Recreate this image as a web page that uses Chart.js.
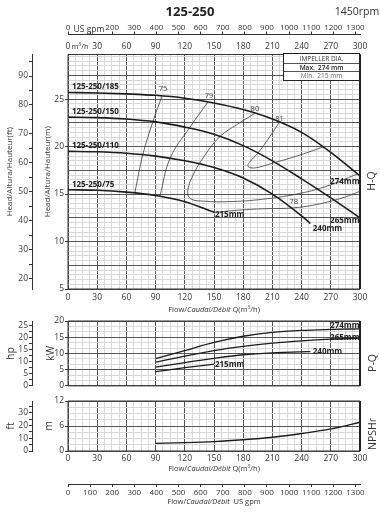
<!DOCTYPE html>
<html><head><meta charset="utf-8">
<script src="https://cdn.jsdelivr.net/npm/chart.js@4"></script>
<style>
body{margin:0;background:#fff;width:380px;height:513px;position:relative;overflow:hidden;font-family:'Open Sans',sans-serif;color:#333}
canvas{position:absolute;left:0}
.t{position:absolute;white-space:nowrap;line-height:1;transform:translate(-50%,-50%)}
.r{transform:translate(-50%,-50%) rotate(-90deg)}
#imp{position:absolute;left:283px;top:53px;width:77px;height:27.5px;box-sizing:border-box;border:1.5px solid #222;background:#fff;font-size:6.5px;text-align:center;color:#333;overflow:hidden}
#imp div{line-height:1;box-sizing:border-box}
</style></head><body>
<canvas id="c1" width="380" height="303" style="top:0"></canvas>
<canvas id="c2" width="380" height="80" style="top:312px"></canvas>
<canvas id="c3" width="380" height="121" style="top:392px"></canvas>

<div class="t" style="left:190px;top:11px;font-weight:700;font-size:13px;color:#222">125-250</div>
<div class="t" style="left:357px;top:11px;font-size:10.5px">1450rpm</div>
<div class="t" style="left:89px;top:29px;font-size:8.5px">US gpm</div>
<div class="t" style="left:80px;top:46px;font-size:7.5px">m<sup style="font-size:5px">3</sup>/h</div>
<div class="t" style="left:214px;top:309px;font-size:7.5px">Flow/<i>Caudal/Débit</i> Q(m<sup style="font-size:5px">3</sup>/h)</div>
<div class="t" style="left:214px;top:468px;font-size:7.5px">Flow/<i>Caudal/Débit</i> Q(m<sup style="font-size:5px">3</sup>/h)</div>
<div class="t" style="left:214px;top:502px;font-size:7.5px">Flow/<i>Caudal/Débit</i>&nbsp; US gpm</div>
<div class="t r" style="left:371px;top:181px;font-size:10.5px">H-Q</div>
<div class="t r" style="left:372px;top:363px;font-size:10.5px">P-Q</div>
<div class="t r" style="left:372px;top:434px;font-size:10.5px">NPSHr</div>
<div id="imp">
  <div style="height:9px;padding-top:1.5px">IMPELLER DIA.</div>
  <div style="height:8px;border-top:1px solid #555;padding-top:0.8px;font-weight:600;color:#222">Max.&nbsp; 274 mm</div>
  <div style="height:7.5px;border-top:1px solid #555;padding-top:0.5px;color:#666">Min.&nbsp; 215 mm</div>
</div>

<script>
// ---------------- data ----------------
const flowTicks = [0,30,60,90,120,150,180,210,240,270,300];          // m3/h
const gpmTicks  = [0,100,200,300,400,500,600,700,800,900,1000,1100,1200,1300];

// H-Q curves (m3/h -> m)
const q274 = [0,30,60,90,120,150,180,210,240,270,300];
const h274 = [25.7,25.65,25.55,25.4,25.1,24.6,23.9,22.9,21.5,19.4,16.9];
const q265 = [0,30,60,90,120,150,180,210,240,270,300];
const h265 = [23.1,23.05,22.9,22.6,22.05,21.3,20.1,18.5,16.6,14.6,12.5];
const q240 = [0,30,60,90,120,150,180,210,240,249];
const h240 = [19.5,19.45,19.3,19.0,18.5,17.8,16.7,15.0,12.7,11.9];
const q215 = [0,30,60,90,120,150];
const h215 = [15.45,15.4,15.2,14.85,14.2,13.1];

// iso-efficiency lines
const eff75Q = [96.6,87.3,77,68.8];
const eff75H = [25.35,22.65,19.2,15.2];
const eff79Q = [143.8,125,105,94.5];
const eff79H = [24.7,22.0,18.8,14.8];
const eff80Q = [192,174,156,140,128,123,126,140,165,200,235,265,297];
const eff80H = [23.5,22.35,21.05,19.0,16.9,15.3,14.5,14.25,14.2,14.45,15.0,15.8,17.1];
const eff81Q = [217,207,195,186,185,192,210,235,262];
const eff81H = [22.55,21.0,19.3,18.3,17.9,17.75,18.25,19.0,19.95];
const eff78Q = [149,175,200,232,260,285,300];
const eff78H = [13.05,13.3,13.45,13.55,14.0,14.7,15.3];

// P-Q curves (m3/h -> kW)
const qP274 = [90,120,150,180,210,240,270,300];
const p274  = [8.4,10.9,13.4,15.3,16.5,17.1,17.4,17.6];
const qP265 = [90,120,150,180,210,240,270,300];
const p265  = [7.3,9.2,10.9,12.2,13.2,13.9,14.4,14.7];
const qP240 = [90,120,150,180,210,240,249];
const p240  = [5.8,7.2,8.5,9.6,10.2,10.5,10.55];
const qP215 = [90,120,150];
const p215  = [4.4,5.6,6.7];

// NPSHr (m3/h -> m)
const qN = [90,120,150,180,210,240,270,300];
const npsh = [1.85,2.0,2.25,2.7,3.3,4.2,5.3,6.9];

// text annotations (anchored in data units)
const hqLabels = [
  {x:4,y:26.3,text:'125-250/185',align:'left',bold:true,size:8},
  {x:4,y:23.7,text:'125-250/150',align:'left',bold:true,size:8},
  {x:4,y:20.1,text:'125-250/110',align:'left',bold:true,size:8},
  {x:4,y:16.0,text:'125-250/75',align:'left',bold:true,size:8},
  {x:299.5,y:16.3,text:'274mm',align:'right',bold:true,size:8},
  {x:299.5,y:12.2,text:'265mm',align:'right',bold:true,size:8},
  {x:251.5,y:11.3,text:'240mm',align:'left',bold:true,size:8},
  {x:151,y:12.8,text:'215mm',align:'left',bold:true,size:8},
  {x:97.6,y:26.05,text:'75',size:7.5},
  {x:144.9,y:25.35,text:'79',size:7.5},
  {x:192,y:23.95,text:'80',size:7.5},
  {x:217.3,y:22.9,text:'81',size:7.5},
  {x:231.9,y:14.2,text:'78',size:7.5}
];
const pqLabels = [
  {x:299.5,y:18.55,text:'274mm',align:'right',bold:true,size:8},
  {x:299.5,y:15.0,text:'265mm',align:'right',bold:true,size:8},
  {x:251.5,y:10.55,text:'240mm',align:'left',bold:true,size:8},
  {x:151,y:6.46,text:'215mm',align:'left',bold:true,size:8}
];

// ---------------- helpers ----------------
const FONT = "'Open Sans', sans-serif";
const M3H_PER_GPM = 0.22712;
function seq(a,b,s){const r=[];const n=Math.round((b-a)/s);for(let i=0;i<=n;i++)r.push(+(a+i*s).toFixed(4));return r;}
function isMult(v,m){return Math.abs(v/m-Math.round(v/m))<1e-6;}
function pts(xs,ys){return xs.map((x,i)=>({x:x,y:ys[i]}));}
function setTicks(vals){return s=>{s.ticks=vals.map(v=>({value:v}));};}
const LIGHT='#d8d8d8', DARK='#555';

const framePlugin={id:'frame',afterDraw(chart){
  const a=chart.chartArea,ctx=chart.ctx;ctx.save();
  ctx.strokeStyle='#333';ctx.lineWidth=1;
  ctx.beginPath();ctx.moveTo(a.right,a.top);ctx.lineTo(a.left,a.top);ctx.lineTo(a.left,a.bottom);ctx.lineTo(a.right,a.bottom);ctx.stroke();
  ctx.strokeStyle='#222';ctx.lineWidth=2;ctx.beginPath();ctx.moveTo(a.right,a.top);ctx.lineTo(a.right,a.bottom);ctx.stroke();
  ctx.restore();}};
function labelPlugin(items){return {id:'txt',afterDatasetsDraw(chart){
  const xs=chart.scales.x,ys=chart.scales.y,ctx=chart.ctx;
  for(const it of items){ctx.save();ctx.font=(it.bold?'bold ':'')+it.size+'px '+FONT;ctx.fillStyle=it.bold?'#222':'#3a3a3a';
    ctx.textAlign=it.align||'center';ctx.textBaseline='middle';
    ctx.fillText(it.text,xs.getPixelForValue(it.x),ys.getPixelForValue(it.y));ctx.restore();}}};}

function xGrid(){return {color:c=>(c.tick&&isMult(c.tick.value,30))?DARK:LIGHT,lineWidth:1,drawTicks:false};}
function curve(xs,ys,w){return {data:pts(xs,ys),xAxisID:'x',yAxisID:'y',showLine:true,borderColor:'#1c1c1c',borderWidth:w,pointRadius:0,cubicInterpolationMode:'monotone',fill:false};}
function effLine(xs,ys){return {data:pts(xs,ys),xAxisID:'x',yAxisID:'y',showLine:true,borderColor:'#3a3a3a',borderWidth:0.8,pointRadius:0,tension:0.4,fill:false};}
const tickFont={family:FONT,size:8.5};
const gpmFont={family:FONT,size:8};
const common={responsive:false,animation:false,events:[],
  plugins:{legend:{display:false},tooltip:{enabled:false}}};

function flowAxis(extra){return Object.assign({type:'linear',position:'bottom',min:0,max:300,weight:1,
  afterBuildTicks:setTicks(seq(0,300,7.5)),
  ticks:{callback:v=>isMult(v,30)?String(v):'',autoSkip:false,maxRotation:0,padding:3,font:tickFont,color:'#333'},
  grid:xGrid(),border:{display:false}},extra);}
function ftAxis(min,max,tickVals,labelEvery,title,titleSize,titlePad){return {type:'linear',position:'left',min:min,max:max,weight:2,
  afterBuildTicks:setTicks(tickVals),
  ticks:{callback:v=>isMult(v,labelEvery)?String(v):'',autoSkip:false,padding:1,font:tickFont,color:'#444'},
  grid:{drawOnChartArea:false,tickLength:3,color:'#333'},border:{display:true,color:'#333',width:1},
  title:{display:true,text:title,font:{family:FONT,size:titleSize},color:'#333',padding:{top:titlePad,bottom:0}},
  afterFit:s=>{s.width=32;}};}
function mAxis(min,max,tickVals,labelEvery,majorEvery,title,titleSize,titlePad){return {type:'linear',position:'left',min:min,max:max,weight:1,
  afterBuildTicks:setTicks(tickVals),
  ticks:{callback:v=>isMult(v,labelEvery)?String(v):'',autoSkip:false,padding:1,font:tickFont,color:'#333'},
  grid:{tickLength:3,color:c=>(c.tick&&isMult(c.tick.value,majorEvery))?DARK:LIGHT,
        tickColor:c=>(c.tick&&isMult(c.tick.value,labelEvery))?'#333':'rgba(0,0,0,0)'},
  border:{display:false},
  title:{display:true,text:title,font:{family:FONT,size:titleSize},color:'#333',padding:{top:titlePad,bottom:0}},
  afterFit:s=>{s.width=36;}};}

// ---------------- Chart 1 : H-Q ----------------
const HMAX=29.7;
new Chart(document.getElementById('c1'),{type:'scatter',
  data:{datasets:[curve(q274,h274,1.6),curve(q265,h265,1.6),curve(q240,h240,1.6),curve(q215,h215,1.6),
    effLine(eff75Q,eff75H),effLine(eff79Q,eff79H),effLine(eff80Q,eff80H),effLine(eff81Q,eff81H),effLine(eff78Q,eff78H)]},
  options:Object.assign({},common,{
    layout:{padding:{top:0,right:20,bottom:0,left:0}},
    scales:{
      x:flowAxis({afterFit:s=>{s.height=14;}}),
      xTop:{type:'linear',position:'top',min:0,max:300,weight:1,afterBuildTicks:setTicks(flowTicks),
        ticks:{callback:v=>String(v),autoSkip:false,maxRotation:0,padding:3,font:tickFont,color:'#333'},
        grid:{display:false,drawTicks:false},border:{display:false},afterFit:s=>{s.height=20.5;}},
      gpmTop:{type:'linear',position:'top',min:0,max:300/M3H_PER_GPM,weight:2,afterBuildTicks:setTicks(gpmTicks),
        ticks:{callback:v=>v===100?'':String(v),autoSkip:false,maxRotation:0,padding:-1,font:gpmFont,color:'#333'},
        grid:{drawOnChartArea:false,tickLength:2.5,color:'#333'},border:{display:true,color:'#333'},afterFit:s=>{s.height=34;}},
      yft:ftAxis(5/0.3048,HMAX/0.3048,seq(20,95,5),10,'Head/Altura/Hauteur(ft)',8,5),
      y:mAxis(5,HMAX,seq(5,29.5,0.5).concat([HMAX]),5,2.5,'Head/Altura/Hauteur(m)',8,11)
    }}),
  plugins:[framePlugin,labelPlugin(hqLabels)]});

// ---------------- Chart 2 : P-Q ----------------
new Chart(document.getElementById('c2'),{type:'scatter',
  data:{datasets:[curve(qP274,p274,1.3),curve(qP265,p265,1.3),curve(qP240,p240,1.3),curve(qP215,p215,1.3)]},
  options:Object.assign({},common,{
    layout:{padding:{top:9,right:20,bottom:6,left:0}},
    scales:{
      x:flowAxis({ticks:{display:false},afterFit:s=>{s.height=0;}}),
      yhp:ftAxis(0,20/0.7457,seq(0,25,2.5),5,'hp',10.5,5),
      y:mAxis(0,20,seq(0,20,5/3),5,5,'kW',10.5,13)
    }}),
  plugins:[framePlugin,labelPlugin(pqLabels)]});

// ---------------- Chart 3 : NPSHr ----------------
new Chart(document.getElementById('c3'),{type:'scatter',
  data:{datasets:[curve(qN,npsh,1.3)]},
  options:Object.assign({},common,{
    layout:{padding:{top:9,right:20,bottom:0,left:0}},
    scales:{
      x:flowAxis({ticks:{callback:v=>isMult(v,30)?String(v):'',autoSkip:false,maxRotation:0,padding:2.6,font:tickFont,color:'#333'},afterFit:s=>{s.height=33;}}),
      gpmBot:{type:'linear',position:'bottom',min:0,max:300/M3H_PER_GPM,weight:2,afterBuildTicks:setTicks(gpmTicks),
        ticks:{callback:v=>String(v),autoSkip:false,maxRotation:0,padding:0.6,font:gpmFont,color:'#333'},
        grid:{drawOnChartArea:false,tickLength:3,color:'#333'},border:{display:true,color:'#333'},afterFit:s=>{s.height=29;}},
      yft:ftAxis(0,12/0.3048,seq(0,35,5),10,'ft',10.5,5),
      y:mAxis(0,12,seq(0,12,1.5),6,6,'m',10.5,11)
    }}),
  plugins:[framePlugin,labelPlugin([])]});
</script>
</body></html>
